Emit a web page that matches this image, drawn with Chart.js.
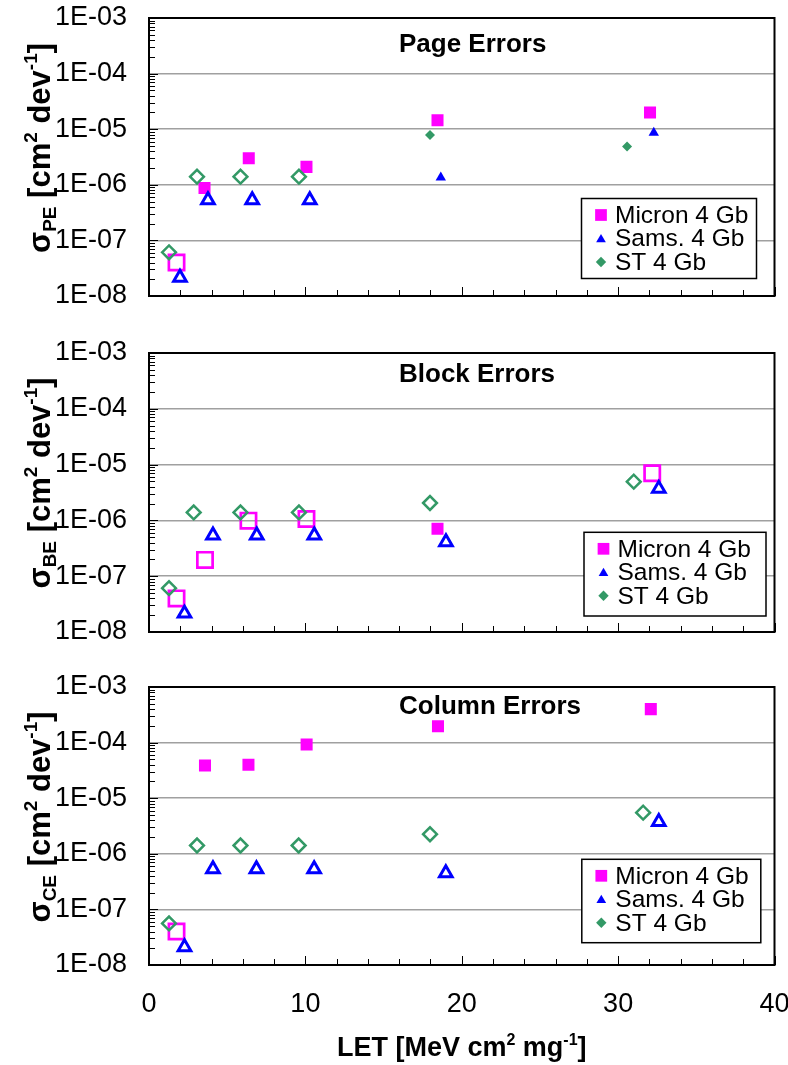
<!DOCTYPE html>
<html><head><meta charset="utf-8">
<script src="https://cdn.jsdelivr.net/npm/chart.js@4.4.0/dist/chart.umd.min.js"></script>
<style>
html,body{margin:0;padding:0;background:#fff;}
#wrap{position:relative;width:788px;height:1065px;overflow:hidden;background:#fff;}
canvas{position:absolute;left:0;}
</style></head><body>
<div id="wrap">
<canvas id="c1"></canvas>
<canvas id="c2"></canvas>
<canvas id="c3"></canvas>
</div>
<script>
// ---------- data ----------
const xTickValues=[0,10,20,30,40];
const xTickLabels=['0','10','20','30','40'];
const yTickValues=[1e-8,1e-7,1e-6,1e-5,1e-4,1e-3];
const yTickLabels=['1E-08','1E-07','1E-06','1E-05','1E-04','1E-03'];
const seriesNames=['Micron 4 Gb','Sams. 4 Gb','ST 4 Gb'];
const panelTitles=['Page Errors','Block Errors','Column Errors'];
const panelSubs=['PE','BE','CE'];

// Page errors (filled = events, open = upper limit)
const peMicronX=[3.55,6.38,10.07,18.45,32.04];
const peMicronY=[8.8e-7,3.0e-6,2.1e-6,1.45e-5,2.0e-5];
const peMicronOpenX=[1.76];
const peMicronOpenY=[4.0e-8];
const peSamsX=[18.66,32.28];
const peSamsY=[1.36e-6,8.6e-6];
const peSamsOpenX=[1.98,3.77,6.6,10.28];
const peSamsOpenY=[2.15e-8,5.3e-7,5.3e-7,5.3e-7];
const peStX=[17.97,30.57];
const peStY=[7.9e-6,4.9e-6];
const peStOpenX=[1.28,3.07,5.85,9.59];
const peStOpenY=[6.1e-8,1.4e-6,1.4e-6,1.4e-6];

// Block errors
const beMicronX=[18.45];
const beMicronY=[7.1e-7];
const beMicronOpenX=[1.76,3.58,6.36,10.07,32.18];
const beMicronOpenY=[4.0e-8,1.96e-7,9.9e-7,1.06e-6,7.0e-6];
const beSamsX=[];
const beSamsY=[];
const beSamsOpenX=[2.27,4.09,6.89,10.57,18.99,32.6];
const beSamsOpenY=[2.15e-8,5.4e-7,5.4e-7,5.4e-7,4.1e-7,3.7e-6];
const beStX=[];
const beStY=[];
const beStOpenX=[1.28,2.86,5.85,9.59,17.97,31.0];
const beStOpenY=[6.1e-8,1.39e-6,1.39e-6,1.39e-6,2.05e-6,4.95e-6];

// Column errors
const ceMicronX=[3.58,6.36,10.08,18.48,32.09];
const ceMicronY=[3.86e-5,4.0e-5,9.2e-5,1.96e-4,4.0e-4];
const ceMicronOpenX=[1.76];
const ceMicronOpenY=[4.0e-8];
const ceSamsX=[];
const ceSamsY=[];
const ceSamsOpenX=[2.27,4.09,6.87,10.56,18.98,32.6];
const ceSamsOpenY=[2.1e-8,5.3e-7,5.3e-7,5.3e-7,4.5e-7,3.76e-6];
const ceStX=[];
const ceStY=[];
const ceStOpenX=[1.28,3.07,5.85,9.57,17.97,31.6];
const ceStOpenY=[5.6e-8,1.41e-6,1.41e-6,1.41e-6,2.25e-6,5.5e-6];

// ---------- styling ----------
const F="'Liberation Sans', Arial, Helvetica, sans-serif";
const MAGENTA='#FF00FF', BLUE='#0000FF', GREEN='#339966';
const seriesColors=[MAGENTA,BLUE,GREEN];
const seriesStyles=['rect','triangle','rectRot'];

function pts(xs,ys){return xs.map((x,i)=>({x:x,y:ys[i]}));}

function datasetsFor(m,mo,s,so,t,to){
  return [
    {label:seriesNames[0],data:m,pointStyle:'rect',pointRadius:8.5,backgroundColor:MAGENTA,borderColor:MAGENTA,borderWidth:0,order:2},
    {label:seriesNames[0]+' limit',data:mo,pointStyle:'rect',pointRadius:10.8,backgroundColor:'rgba(0,0,0,0)',borderColor:MAGENTA,borderWidth:2.7,order:2},
    {label:seriesNames[1],data:s,pointStyle:'triangle',pointRadius:6,backgroundColor:BLUE,borderColor:BLUE,borderWidth:0,order:1},
    {label:seriesNames[1]+' limit',data:so,pointStyle:'triangle',pointRadius:7.3,backgroundColor:'rgba(0,0,0,0)',borderColor:BLUE,borderWidth:3,order:1},
    {label:seriesNames[2],data:t,pointStyle:'rectRot',pointRadius:5,backgroundColor:GREEN,borderColor:GREEN,borderWidth:0,order:0},
    {label:seriesNames[2]+' limit',data:to,pointStyle:'rectRot',pointRadius:6.9,backgroundColor:'rgba(0,0,0,0)',borderColor:GREEN,borderWidth:2.5,order:0}
  ].map(d=>Object.assign(d,{showLine:false,pointHoverRadius:d.pointRadius}));
}

const panels=[
  {id:'c1',top:0,h:335,areaTop:18,areaBottom:296,showX:false,title:panelTitles[0],sub:panelSubs[0],
   titleX:399,titleY:51.7,legend:{x:581.5,y:198.5,w:175,h:80},
   ds:datasetsFor(pts(peMicronX,peMicronY),pts(peMicronOpenX,peMicronOpenY),pts(peSamsX,peSamsY),pts(peSamsOpenX,peSamsOpenY),pts(peStX,peStY),pts(peStOpenX,peStOpenY))},
  {id:'c2',top:335,h:335,areaTop:18,areaBottom:297,showX:false,title:panelTitles[1],sub:panelSubs[1],
   titleX:399,titleY:46.7,legend:{x:584,y:197.3,w:182,h:83.7},
   ds:datasetsFor(pts(beMicronX,beMicronY),pts(beMicronOpenX,beMicronOpenY),pts(beSamsX,beSamsY),pts(beSamsOpenX,beSamsOpenY),pts(beStX,beStY),pts(beStOpenX,beStOpenY))},
  {id:'c3',top:670,h:395,areaTop:17,areaBottom:295,showX:true,title:panelTitles[2],sub:panelSubs[2],
   titleX:399,titleY:44.3,legend:{x:581.8,y:189.3,w:179,h:83.4},
   ds:datasetsFor(pts(ceMicronX,ceMicronY),pts(ceMicronOpenX,ceMicronOpenY),pts(ceSamsX,ceSamsY),pts(ceSamsOpenX,ceSamsOpenY),pts(ceStX,ceStY),pts(ceStOpenX,ceStOpenY))}
];

function shape(ctx,style,r,x,y){
  ctx.beginPath();
  if(style==='rect'){const s=Math.SQRT1_2*r;ctx.rect(x-s,y-s,2*s,2*s);}
  else if(style==='triangle'){
    ctx.moveTo(x,y-r);
    ctx.lineTo(x+Math.sin(2*Math.PI/3)*r,y-Math.cos(2*Math.PI/3)*r);
    ctx.lineTo(x+Math.sin(4*Math.PI/3)*r,y-Math.cos(4*Math.PI/3)*r);
    ctx.closePath();
  } else {ctx.moveTo(x,y-r);ctx.lineTo(x+r,y);ctx.lineTo(x,y+r);ctx.lineTo(x-r,y);ctx.closePath();}
}

function measureRich(ctx,parts,size){
  const small=Math.round(size*0.6);
  let w=0;
  parts.forEach(p=>{ctx.font='bold '+(p.s?small:size)+'px '+F;p.w=ctx.measureText(p.t).width;w+=p.w;});
  return {w:w,small:small};
}
function drawRich(ctx,parts,size,x,y){
  const m=measureRich(ctx,parts,size);
  let cx=x-m.w/2;
  ctx.textAlign='left';ctx.textBaseline='alphabetic';ctx.fillStyle='#000';
  parts.forEach(p=>{
    ctx.font='bold '+(p.s?m.small:size)+'px '+F;
    const dy=p.s==='sup'?-size*0.42:(p.s==='sub'?size*0.2:0);
    ctx.fillText(p.t,cx,y+dy);
    cx+=p.w;
  });
}

function makePlugin(P){
  return {
    id:'decor',
    beforeDatasetsDraw(chart){
      const ctx=chart.ctx,a=chart.chartArea,x=chart.scales.x,y=chart.scales.y;
      ctx.save();
      ctx.strokeStyle='#000';ctx.lineWidth=1;
      ctx.beginPath();
      for(let e=-8;e<-3;e++){for(let m=1;m<10;m++){
        const py=Math.round(y.getPixelForValue(m*Math.pow(10,e)))+0.5;
        const len=m===1?9:6;
        ctx.moveTo(a.left,py);ctx.lineTo(a.left+len,py);
      }}
      for(let v=0;v<=40;v+=2){
        const px=Math.round(x.getPixelForValue(v))+0.5;
        const len=v%10===0?9:6;
        ctx.moveTo(px,a.bottom);ctx.lineTo(px,a.bottom-len);
      }
      ctx.stroke();
      ctx.lineWidth=2;ctx.strokeRect(a.left,a.top,a.right-a.left,a.bottom-a.top);
      ctx.restore();
    },
    afterDraw(chart){
      const ctx=chart.ctx,a=chart.chartArea;
      ctx.save();
      // panel title
      ctx.font='bold 26px '+F;ctx.fillStyle='#000';ctx.textAlign='left';ctx.textBaseline='alphabetic';
      ctx.fillText(P.title,P.titleX,P.titleY);
      // legend
      const L=P.legend;
      ctx.fillStyle='#fff';ctx.fillRect(L.x,L.y,L.w,L.h);
      ctx.strokeStyle='#000';ctx.lineWidth=1.5;ctx.strokeRect(L.x,L.y,L.w,L.h);
      const legR=[8.3,5.6,5.2];
      for(let i=0;i<3;i++){
        const ry=L.y+16.5+i*23.5;
        ctx.fillStyle=seriesColors[i];
        shape(ctx,seriesStyles[i],legR[i],L.x+19.5,ry+(i===1?1:0));
        ctx.fill();
        ctx.fillStyle='#000';ctx.font='24.5px '+F;ctx.textAlign='left';ctx.textBaseline='middle';
        ctx.fillText(seriesNames[i],L.x+33.5,ry+1);
      }
      // y axis title (rotated)
      ctx.translate(50,a.top+130);
      ctx.rotate(-Math.PI/2);
      drawRich(ctx,[{t:'σ'},{t:P.sub,s:'sub'},{t:' [cm'},{t:'2',s:'sup'},{t:' dev'},{t:'-1',s:'sup'},{t:']'}],31,0,0);
      ctx.restore();
      if(P.showX){
        ctx.save();
        drawRich(ctx,[{t:'LET [MeV cm'},{t:'2',s:'sup'},{t:' mg'},{t:'-1',s:'sup'},{t:']'}],27,(a.left+a.right)/2,386);
        ctx.restore();
      }
    }
  };
}

panels.forEach(P=>{
  const cv=document.getElementById(P.id);
  cv.width=788;cv.height=P.h;cv.style.top=P.top+'px';cv.style.width='788px';cv.style.height=P.h+'px';
  new Chart(cv,{
    type:'scatter',
    data:{datasets:P.ds},
    options:{
      responsive:false,animation:false,devicePixelRatio:1,
      layout:{padding:{left:0,right:9,top:P.areaTop,bottom:0}},
      plugins:{legend:{display:false},tooltip:{enabled:false},title:{display:false}},
      events:[],
      scales:{
        x:{type:'linear',min:0,max:40,position:'bottom',
          afterBuildTicks:s=>{s.ticks=xTickValues.map(v=>({value:v}));},
          ticks:{display:P.showX,autoSkip:false,maxRotation:0,padding:23,color:'#000',font:{family:F,size:27},
            callback:(v,i)=>xTickLabels[i]},
          grid:{display:false,drawTicks:false},
          border:{display:false},
          afterFit:s=>{s.height=P.h-P.areaBottom;s.paddingLeft=0;s.paddingRight=0;}
        },
        y:{type:'logarithmic',min:1e-8,max:1e-3,position:'left',
          afterBuildTicks:s=>{s.ticks=yTickValues.map(v=>({value:v}));},
          ticks:{autoSkip:false,padding:22,color:'#000',font:{family:F,size:27},
            callback:(v,i)=>yTickLabels[i]},
          grid:{color:'#a0a0a0',lineWidth:1.5,drawTicks:false},
          border:{display:false},
          afterFit:s=>{s.width=149;s.paddingTop=0;s.paddingBottom=0;}
        }
      }
    },
    plugins:[makePlugin(P)]
  });
});
</script>
</body></html>
